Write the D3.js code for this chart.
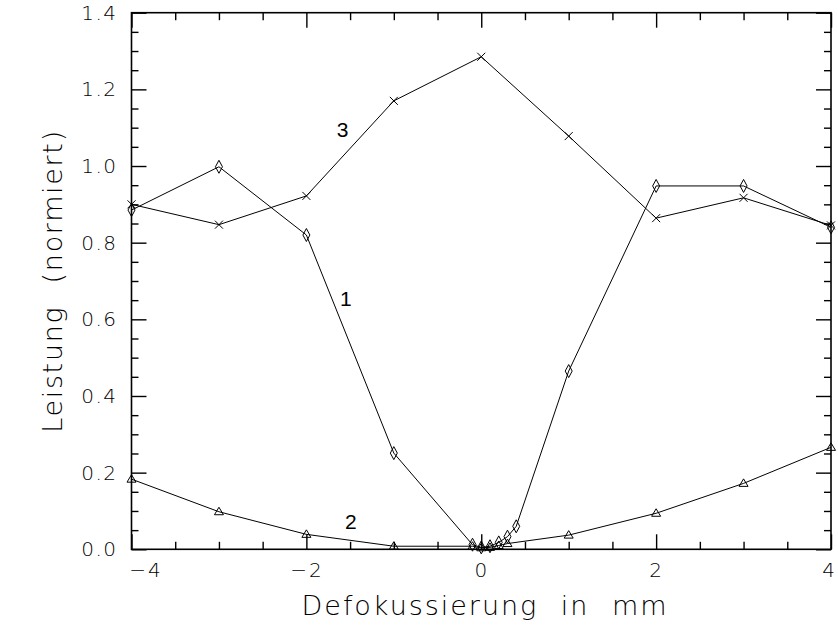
<!DOCTYPE html>
<html><head><meta charset="utf-8">
<script src="https://cdn.jsdelivr.net/npm/d3@7"></script>
<style>
html,body{margin:0;padding:0;background:#fff;}
svg{display:block;}
text{font-family:"DejaVu Sans",sans-serif;font-weight:200;fill:#000;}
</style></head>
<body><svg id="c" width="838" height="632"></svg>
<script>
// ---- data ----
const xMajorTicks = [-4, -2, 0, 2, 4];
const yMajorTicks = [0.0, 0.2, 0.4, 0.6, 0.8, 1.0, 1.2, 1.4];
const xLabel = "Defokussierung in mm";
const yLabel = "Leistung (normiert)";

// curve 1 (diamonds)
const x1 = [-4, -3, -2, -1, -0.1, 0, 0.1, 0.2, 0.3, 0.4, 1, 2, 3, 4];
const y1 = [0.885, 0.998, 0.82, 0.251, 0.012, 0.005, 0.008, 0.018, 0.033, 0.06, 0.465, 0.948, 0.948, 0.84];
// curve 2 (triangles)
const x2 = [-4, -3, -2, -1, -0.1, 0, 0.1, 0.2, 0.3, 1, 2, 3, 4];
const y2 = [0.183, 0.098, 0.039, 0.008, 0.008, 0.004, 0.005, 0.01, 0.015, 0.037, 0.094, 0.172, 0.266];
// curve 3 (crosses)
const x3 = [-4, -3, -2, -1, 0, 1, 2, 3, 4];
const y3 = [0.90, 0.847, 0.922, 1.17, 1.285, 1.078, 0.864, 0.917, 0.845];

// curve annotations
const annNames = ["3", "1", "2"];
const annX = [-1.585, -1.55, -1.49];
const annY = [1.076, 0.635, 0.053];

// ---- layout ----
const W = 838, H = 632;
const m = {l: 131.5, r: 7, t: 12.7, b: 82.7};
const svg = d3.select("#c");
const x = d3.scaleLinear().domain([-4, 4]).range([m.l, W - m.r]);
const y = d3.scaleLinear().domain([0, 1.4]).range([H - m.b, m.t]);
const pw = W - m.l - m.r, ph = H - m.t - m.b;

const xMinor = d3.range(-4, 4.001, 0.5).filter(v => Math.abs(v / 2 - Math.round(v / 2)) > 1e-6);
const yMinor = d3.range(0, 1.4001, 0.05).filter(v => Math.abs(v / 0.2 - Math.round(v / 0.2)) > 1e-6);

function styleAxis(g) {
  g.select(".domain").remove();
  g.selectAll("line").attr("stroke", "#000").attr("stroke-width", 1.4);
}
const fmtY = d3.format(".1f");
const fmtX = v => (v < 0 ? "\u2212" : "") + Math.abs(v);

// bottom
const gB = svg.append("g").attr("transform", `translate(0,${H - m.b})`)
  .call(d3.axisBottom(x).tickValues(xMajorTicks).tickSize(-15).tickPadding(0).tickFormat(fmtX)).call(styleAxis);
gB.selectAll("text").attr("font-size", 20).attr("y", 28).attr("dy", 0)
  .attr("letter-spacing", 2)
  .attr("dx", d => d === -4 ? 14 : (d === 4 ? -2 : 0));
svg.append("g").attr("transform", `translate(0,${H - m.b})`)
  .call(d3.axisBottom(x).tickValues(xMinor).tickSize(-7.5).tickFormat("")).call(styleAxis);
// top
svg.append("g").attr("transform", `translate(0,${m.t})`)
  .call(d3.axisTop(x).tickValues(xMajorTicks).tickSize(-15).tickFormat("")).call(styleAxis);
svg.append("g").attr("transform", `translate(0,${m.t})`)
  .call(d3.axisTop(x).tickValues(xMinor).tickSize(-7.5).tickFormat("")).call(styleAxis);
// left
const gL = svg.append("g").attr("transform", `translate(${m.l},0)`)
  .call(d3.axisLeft(y).tickValues(yMajorTicks).tickSize(-15).tickPadding(14).tickFormat(fmtY)).call(styleAxis);
gL.selectAll("text").attr("font-size", 20).attr("letter-spacing", 1.5).attr("x", -14).attr("dy", "0.32em");
svg.append("g").attr("transform", `translate(${m.l},0)`)
  .call(d3.axisLeft(y).tickValues(yMinor).tickSize(-7).tickFormat("")).call(styleAxis);
// right
svg.append("g").attr("transform", `translate(${W - m.r},0)`)
  .call(d3.axisRight(y).tickValues(yMajorTicks).tickSize(-15).tickFormat("")).call(styleAxis);
svg.append("g").attr("transform", `translate(${W - m.r},0)`)
  .call(d3.axisRight(y).tickValues(yMinor).tickSize(-7).tickFormat("")).call(styleAxis);

// frame
svg.append("rect").attr("x", m.l).attr("y", m.t).attr("width", pw).attr("height", ph)
  .attr("fill", "none").attr("stroke", "#000").attr("stroke-width", 1.6);

const plot = svg.append("g");
const line = d3.line().x(d => x(d[0])).y(d => y(d[1]));
const s1 = x1.map((v, i) => [v, y1[i]]);
const s2 = x2.map((v, i) => [v, y2[i]]);
const s3 = x3.map((v, i) => [v, y3[i]]);

[s1, s2, s3].forEach(s => {
  plot.append("path").attr("d", line(s)).attr("fill", "none").attr("stroke", "#000").attr("stroke-width", 1);
});

// markers
plot.selectAll(".dia").data(s1).join("path")
  .attr("transform", d => `translate(${x(d[0])},${y(d[1])})`)
  .attr("d", "M0,-6.5L3.5,0L0,6.5L-3.5,0Z")
  .attr("fill", "none").attr("stroke", "#000").attr("stroke-width", 1);
plot.selectAll(".tri").data(s2).join("path")
  .attr("transform", d => `translate(${x(d[0])},${y(d[1])})`)
  .attr("d", "M0,-4.5L4.5,3L-4.5,3Z")
  .attr("fill", "none").attr("stroke", "#000").attr("stroke-width", 1);
plot.selectAll(".crs").data(s3).join("path")
  .attr("transform", d => `translate(${x(d[0])},${y(d[1])})`)
  .attr("d", "M-4,-4L4,4M-4,4L4,-4")
  .attr("fill", "none").attr("stroke", "#000").attr("stroke-width", 1);

// annotations
svg.selectAll(".ann").data(annNames).join("text")
  .attr("x", (d, i) => x(annX[i])).attr("y", (d, i) => y(annY[i]))
  .attr("text-anchor", "middle")
  .style("font-family", "'Liberation Sans',Arial,sans-serif").style("font-weight", 400)
  .attr("font-size", 21).text(d => d);

// axis titles, fitted by spacing
function fitTitle(t, target) {
  t.attr("word-spacing", 12);
  const n = t.text().length;
  const len = t.node().getComputedTextLength();
  const ls = Math.max(0, (target - len) / (n - 1));
  t.attr("letter-spacing", ls.toFixed(2));
}
const xt = svg.append("text").attr("x", 485).attr("y", 615).attr("text-anchor", "middle")
  .attr("font-size", 27).text(xLabel);
fitTitle(xt, 365);
const yt = svg.append("text").attr("transform", "translate(62,281) rotate(-90)").attr("text-anchor", "middle")
  .attr("font-size", 27).text(yLabel);
fitTitle(yt, 302);
</script></body></html>
